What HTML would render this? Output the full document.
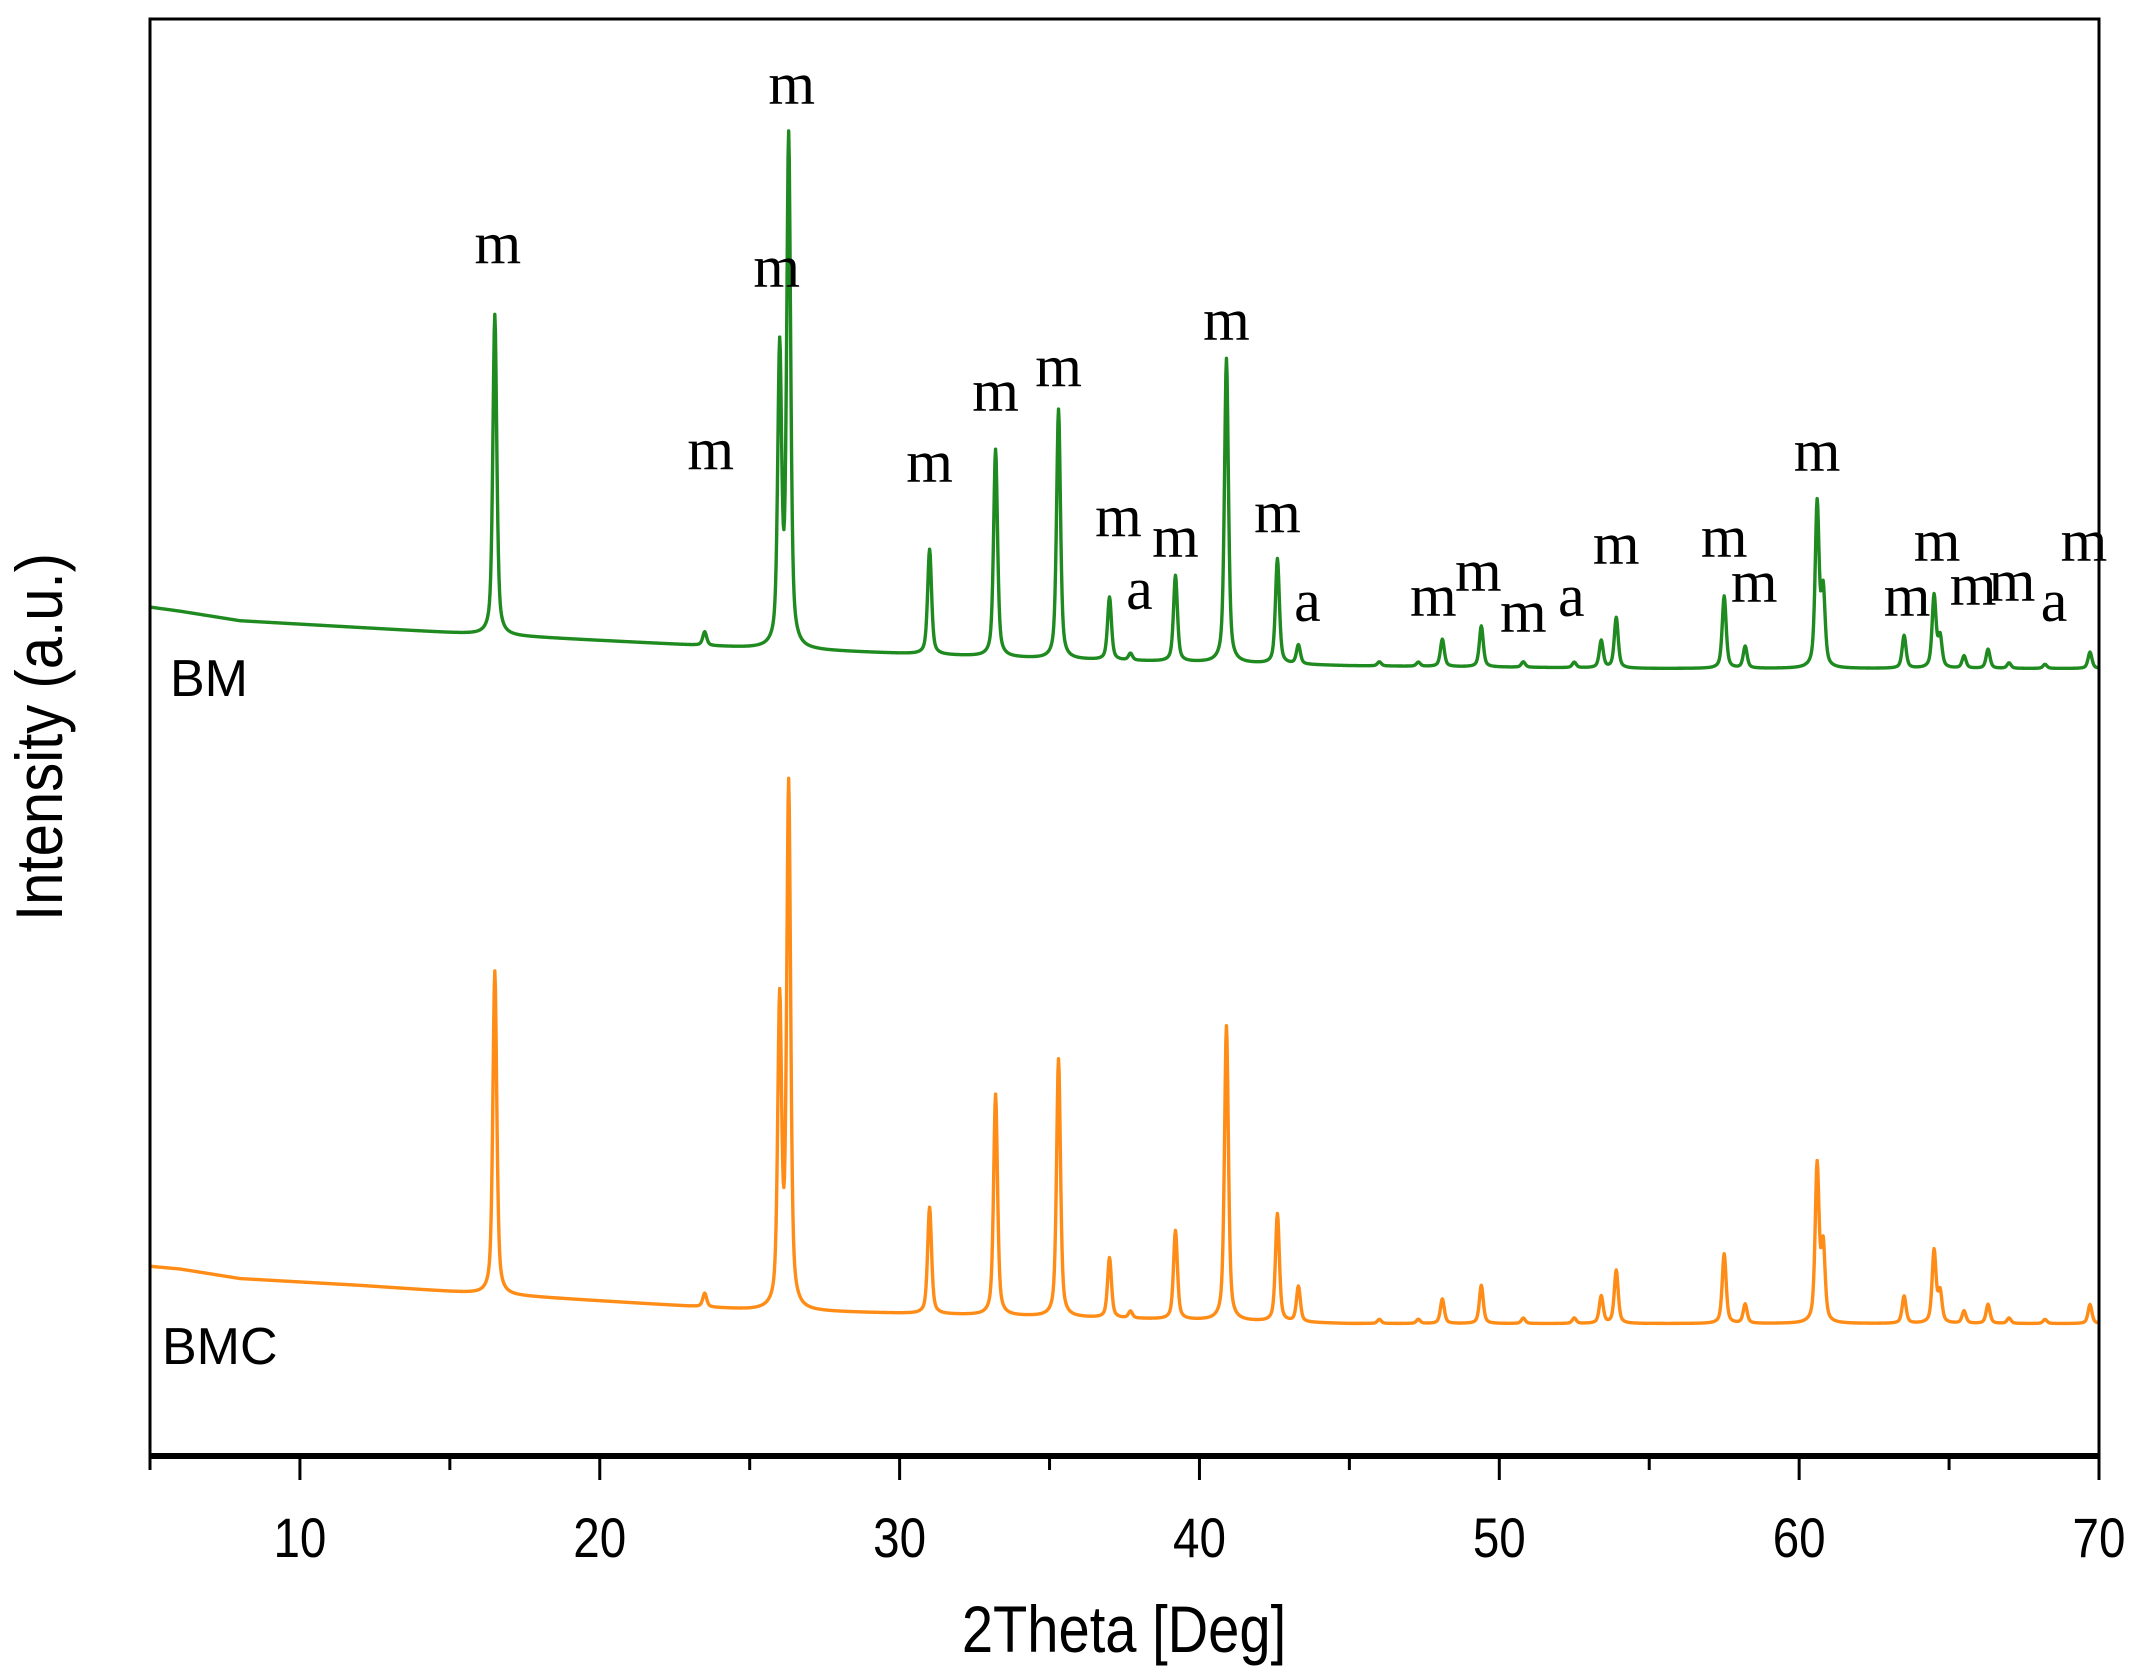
<!DOCTYPE html>
<html><head><meta charset="utf-8"><style>
html,body{margin:0;padding:0;background:#fff;}
svg{display:block;}
</style></head><body>
<svg id="chart" width="2140" height="1678" viewBox="0 0 2140 1678" xmlns="http://www.w3.org/2000/svg">
<rect width="2140" height="1678" fill="#fff"/>
<g id="series"></g>
<g id="labels"></g>
<rect x="150" y="19" width="1949" height="1437" fill="none" stroke="#000" stroke-width="3"/>
<line x1="150" y1="1456" x2="2099" y2="1456" stroke="#000" stroke-width="6"/>
<g id="ticks"></g>
<text x="0" y="0" font-family="Liberation Sans, sans-serif" font-size="66" text-anchor="middle" transform="translate(1124,1652) scale(0.85,1)">2Theta [Deg]</text>
<text x="0" y="0" font-family="Liberation Sans, sans-serif" font-size="66" text-anchor="middle" transform="translate(62,737) rotate(-90) scale(0.88,1)">Intensity (a.u.)</text>
<text x="170" y="696" font-family="Liberation Sans, sans-serif" font-size="52">BM</text>
<text x="162" y="1364" font-family="Liberation Sans, sans-serif" font-size="52">BMC</text>
</svg>
<script>
// ---- data ----
const xTicks = [5,10,15,20,25,30,35,40,45,50,55,60,65,70];
const xTickLabels = ["10","20","30","40","50","60","70"];
const xTickLabelValues = [10,20,30,40,50,60,70];
const baseAngles = [5,6,8,12,16,25,35,45,55,70];
const bmBase = [622,619,612,607,602,592,584,579,577,577];
const bmcBase = [139,137,130,125,119,107,102,97,97,97];
const peakPos = [16.5,23.5,26.0,26.3,31.0,33.2,35.3,37.0,37.7,39.2,40.9,42.6,43.3,46.0,47.3,48.1,49.4,50.8,52.5,53.4,53.9,57.5,58.2,60.6,60.8,63.5,64.5,64.7,65.5,66.3,67.0,68.2,69.7];
const bmHeights = [235,10,215,372,77,152,183,46,5,63,223,77,14,3,3,20,30,4,4,20,37,53,16,120,55,24,53,22,9,14,4,3,12];
const bmcHeights = [237,10,222,382,78,162,189,44,5,65,216,79,26,3,3,18,28,4,4,20,39,51,14,115,55,20,53,22,9,14,4,3,14];
const annText = ["m","m","m","m","m","m","m","m","a","m","m","m","a","m","m","m","a","m","m","m","m","m","m","m","m","a","m"];
const annAngle = [16.6,26.4,25.9,23.7,31.0,33.2,35.3,37.3,38.0,39.2,40.9,42.6,43.6,47.8,49.3,50.8,52.4,53.9,57.5,58.5,60.6,63.6,64.6,65.8,67.1,68.5,69.5];
const annY = [180,63,197,331,340,288,270,380,433,395,236,377,442,438,420,450,438,400,395,428,332,438,398,430,427,442,398];

const S = 2140/1568;
const xScale = a => 150 + (a-5)*(2099-150)/65;
const yScale = v => 1456 - v*S;
const NS = 'http://www.w3.org/2000/svg';
function interpBase(a, base){
  for(let i=0;i<baseAngles.length-1;i++){
    if(a<=baseAngles[i+1]){const t=(a-baseAngles[i])/(baseAngles[i+1]-baseAngles[i]);return base[i]+t*(base[i+1]-base[i]);}
  }
  return base[base.length-1];
}
function profile(a, heights){
  let s=0;
  for(let i=0;i<peakPos.length;i++){
    const d=a-peakPos[i];
    const g=0.08;
    s+=heights[i]*(0.55*g*g/(d*d+g*g)+0.45*Math.exp(-d*d/(2*0.065*0.065)));
  }
  return s;
}
function drawSeries(base, heights, color, name){
  let d='';
  for(let a=5;a<=70.0001;a+=0.02){
    const v=interpBase(a,base)+profile(a,heights);
    d+=(d?'L':'M')+xScale(a).toFixed(2)+','+yScale(v).toFixed(2);
  }
  const p=document.createElementNS(NS,'path');
  p.setAttribute('d',d);p.setAttribute('fill','none');p.setAttribute('stroke',color);
  p.setAttribute('stroke-width','3.4');p.setAttribute('stroke-linejoin','round');
  
  
  document.getElementById('series').appendChild(p);
}
drawSeries(bmBase,bmHeights,'#1f8a1f','bm-pattern-line');
drawSeries(bmcBase,bmcHeights,'#ff8c16','bmc-pattern-line');

const tg=document.getElementById('ticks');
xTicks.forEach(t=>{
  const l=document.createElementNS(NS,'line');
  l.setAttribute('x1',xScale(t));l.setAttribute('x2',xScale(t));
  l.setAttribute('y1',1456);l.setAttribute('y2',1456+((t%10===0)?24:14));
  l.setAttribute('stroke','#000');l.setAttribute('stroke-width','3');
  
  
  tg.appendChild(l);
});
xTickLabelValues.forEach((v,i)=>{
  const t=document.createElementNS(NS,'text');
  t.setAttribute('transform','translate('+xScale(v)+',1557) scale(0.85,1)');
  t.setAttribute('text-anchor','middle');t.setAttribute('font-family','Liberation Sans, sans-serif');
  t.setAttribute('font-size','56');
  t.textContent=xTickLabels[i];
  
  
  tg.appendChild(t);
});
const lg=document.getElementById('labels');
annText.forEach((s,i)=>{
  const t=document.createElementNS(NS,'text');
  t.setAttribute('x',xScale(annAngle[i]));t.setAttribute('y',annY[i]*S+18);
  t.setAttribute('text-anchor','middle');t.setAttribute('font-family','Liberation Serif, serif');
  t.setAttribute('font-size','60');
  t.textContent=s;
  
  
  lg.appendChild(t);
});
</script>
</body></html>
